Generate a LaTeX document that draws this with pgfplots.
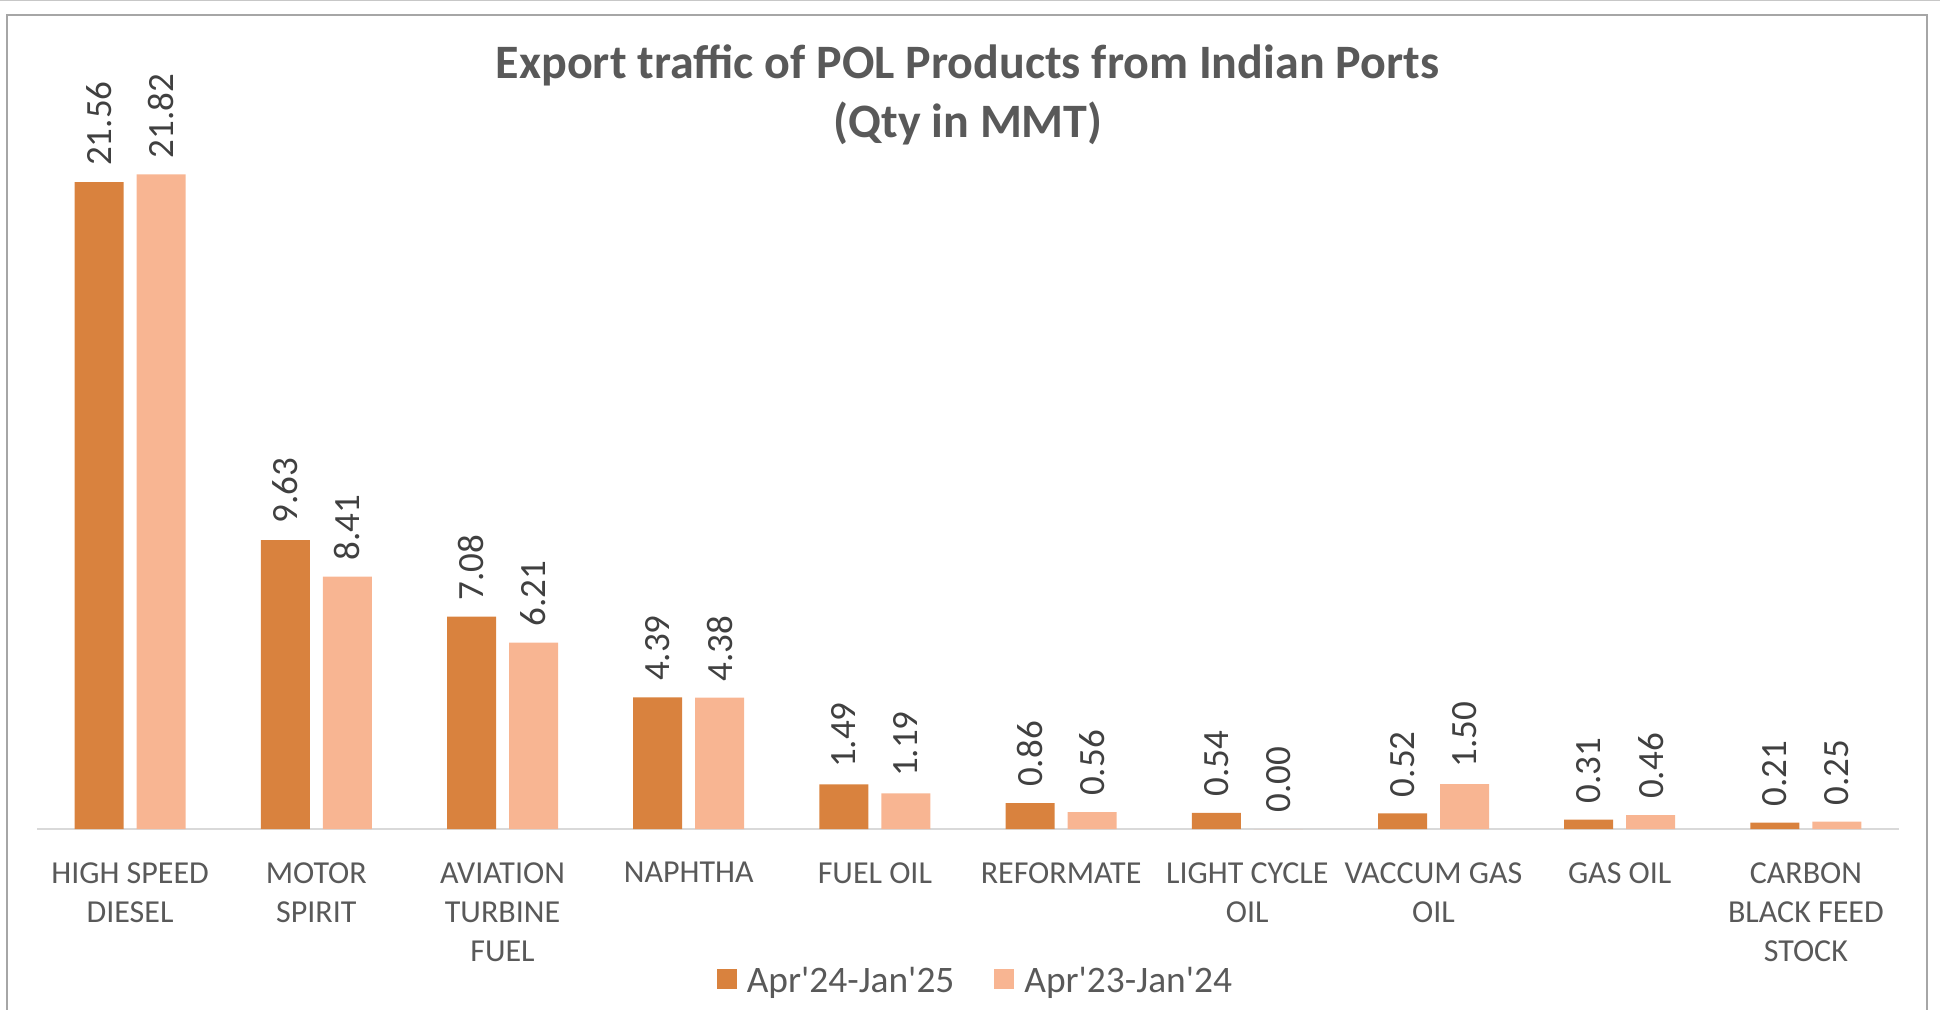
\documentclass[border=0pt]{standalone}
\usepackage{fontspec}
\setmainfont{Carlito}
\usepackage{pgfplots}
\pgfplotsset{compat=1.18}
\definecolor{darkbar}{HTML}{D9823E}
\definecolor{lightbar}{HTML}{F8B592}
\definecolor{txt}{HTML}{595959}
\definecolor{vtxt}{HTML}{404040}
\definecolor{axisgray}{HTML}{D9D9D9}
\definecolor{framegray}{HTML}{A6A6A6}
\begin{document}
\begin{tikzpicture}
\draw[color=black!22, line width=0.5pt] (0,504.25pt) -- (970pt,504.25pt);
\draw[color=framegray, line width=1.2pt] (3.5pt,-2pt) -- (3.5pt,497pt) -- (963.5pt,497pt) -- (963.5pt,-2pt);
\node[font=\bfseries\fontsize{24}{24}\selectfont, color=txt, anchor=base] at (483.75pt,465pt) {Export traffic of POL Products from Indian Ports};
\node[font=\bfseries\fontsize{24}{24}\selectfont, color=txt, anchor=base] at (484pt,435.5pt) {(Qty in MMT)};
\begin{axis}[
  at={(18.5pt,90pt)}, anchor=south west,
  scale only axis, width=931pt, height=360pt,
  xmin=-0.5, xmax=9.5, ymin=0, ymax=24,
  ybar=6.5pt, bar width=24.5pt,
  axis x line=bottom, axis y line=none,
  x axis line style={-, draw=axisgray, line width=1pt},
  xtick={0,...,9},
  xtick style={draw=none},
  ytick=\empty,
  xticklabels={{HIGH SPEED\\DIESEL},{MOTOR\\SPIRIT},{AVIATION\\TURBINE\\FUEL},{NAPHTHA},{FUEL OIL},{REFORMATE},{LIGHT CYCLE\\OIL},{VACCUM GAS\\OIL},{GAS OIL},{CARBON\\BLACK FEED\\STOCK}},
  xticklabel style={align=center, font=\fontsize{16}{19.5}\selectfont, color=txt, anchor=north, inner sep=0pt, yshift=-14.3pt},
  /pgf/number format/assume math mode=true,
  nodes near coords={\pgfmathprintnumber[fixed, fixed zerofill, precision=2]{\pgfplotspointmeta}},
  point meta=y,
  every node near coord/.append style={rotate=90, anchor=west, font=\fontsize{18.5}{18.5}\selectfont, color=vtxt, inner xsep=8pt, inner ysep=0pt},
  legend style={at={(0.5045,-0.2111)}, anchor=center, legend columns=2, draw=none, fill=none, font={\fontsize{18.7}{18.7}\selectfont\color{txt}}, /tikz/every even column/.append style={column sep=18pt}, /tikz/every odd column/.append style={column sep=3pt}},
  legend cell align=left,
  clip=false,
]
\addplot[fill=darkbar, draw=none, legend image code/.code={\fill[darkbar] (0pt,-4pt) rectangle (10pt,6pt);}] coordinates {(0,21.56) (1,9.63) (2,7.08) (3,4.39) (4,1.49) (5,0.86) (6,0.54) (7,0.52) (8,0.31) (9,0.21)};
\addlegendentry{Apr\textquotesingle 24-Jan\textquotesingle 25}
\addplot[fill=lightbar, draw=none, legend image code/.code={\fill[lightbar] (0pt,-4pt) rectangle (10pt,6pt);}] coordinates {(0,21.82) (1,8.41) (2,6.21) (3,4.38) (4,1.19) (5,0.56) (6,0.00) (7,1.50) (8,0.46) (9,0.25)};
\addlegendentry{Apr\textquotesingle 23-Jan\textquotesingle 24}
\end{axis}
\pgfresetboundingbox
\useasboundingbox (0,0) rectangle (970pt,504.5pt);
\end{tikzpicture}
\end{document}
